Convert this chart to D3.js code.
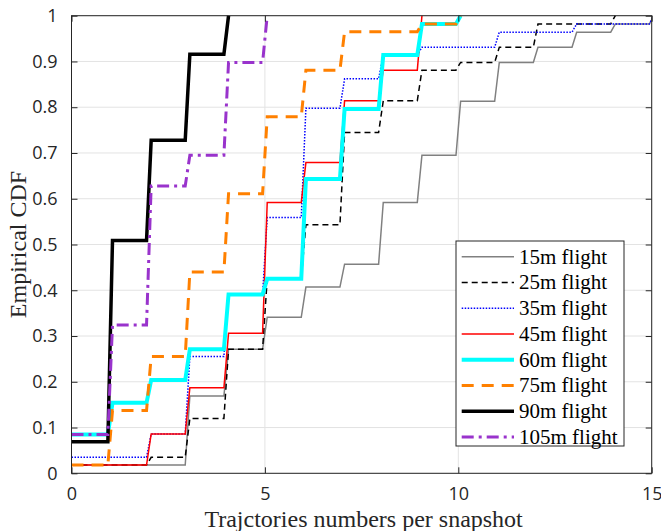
<!DOCTYPE html>
<html>
<head>
<meta charset="utf-8">
<script src="https://cdn.jsdelivr.net/npm/d3@7/dist/d3.min.js"></script>
<style>
html,body{margin:0;padding:0;background:#fff;}
svg{display:block;}
</style>
</head>
<body>
<svg id="chart" width="661" height="531"></svg>
<script>
// CDF values at x = 0,1,2,... (value holds until the next integer)
const xTicks = [0, 5, 10, 15];
const yTicks = [0, 0.1, 0.2, 0.3, 0.4, 0.5, 0.6, 0.7, 0.8, 0.9, 1];
const yTickLabels = ["0", "0.1", "0.2", "0.3", "0.4", "0.5", "0.6", "0.7", "0.8", "0.9", "1"];
const seriesNames = ["15m flight", "25m flight", "35m flight", "45m flight", "60m flight", "75m flight", "90m flight", "105m flight"];
const cdf15  = [0.018, 0.018, 0.018, 0.169, 0.271, 0.341, 0.407, 0.457, 0.592, 0.695, 0.813, 0.898, 0.931, 0.964, 0.982, 1];
const cdf25  = [0.018, 0.018, 0.035, 0.120, 0.271, 0.425, 0.543, 0.745, 0.814, 0.881, 0.898, 0.931, 0.982, 0.982, 1];
const cdf35  = [0.035, 0.035, 0.086, 0.255, 0.391, 0.559, 0.798, 0.862, 0.914, 0.931, 0.931, 0.964, 0.964, 0.982, 0.982, 1];
const cdf45  = [0.018, 0.018, 0.086, 0.187, 0.306, 0.592, 0.679, 0.814, 0.881, 1];
const cdf60  = [0.085, 0.154, 0.204, 0.271, 0.391, 0.425, 0.643, 0.796, 0.914, 0.982, 1];
const cdf75  = [0.018, 0.137, 0.255, 0.440, 0.611, 0.779, 0.881, 0.965, 0.965, 0.982, 1];
const cdf90  = [0.069, 0.509, 0.728, 0.916, 1];
const cdf105 = [0.085, 0.324, 0.628, 0.695, 0.898, 1];
const allSeries = [cdf15, cdf25, cdf35, cdf45, cdf60, cdf75, cdf90, cdf105];

const styles = [
  {color: "#808080", width: 1.5, dash: null},
  {color: "#000000", width: 1.5, dash: "6,4"},
  {color: "#0000ff", width: 1.5, dash: "1.5,1.5"},
  {color: "#ff0000", width: 1.5, dash: null},
  {color: "#00ffff", width: 4,   dash: null},
  {color: "#ff8000", width: 3,   dash: "12,8"},
  {color: "#000000", width: 3.5, dash: null},
  {color: "#9933cc", width: 3,   dash: "12,5,3,5"}
];

const svg = d3.select("#chart");
const L = 71.5, R = 651.7, T = 15.7, B = 473.3;
const x = d3.scaleLinear().domain([0, 15]).range([L, R]);
const y = d3.scaleLinear().domain([0, 1]).range([B, T]);

// grid
svg.append("g").selectAll("line").data(yTicks).join("line")
  .attr("x1", L).attr("x2", R).attr("y1", d => y(d)).attr("y2", d => y(d))
  .attr("stroke", "#e3e3e3").attr("stroke-width", 1);
svg.append("g").selectAll("line").data(xTicks).join("line")
  .attr("y1", T).attr("y2", B).attr("x1", d => x(d)).attr("x2", d => x(d))
  .attr("stroke", "#e3e3e3").attr("stroke-width", 1);

// series
const s = 0.06;
function stepPoints(vals) {
  const pts = [[0, vals[0]]];
  for (let k = 1; k < vals.length; k++) {
    pts.push([k - s, vals[k - 1]]);
    pts.push([k + s, vals[k]]);
  }
  return pts;
}
const line = d3.line().x(d => x(d[0])).y(d => y(d[1]));
svg.append("clipPath").attr("id", "clip").append("rect")
  .attr("x", L).attr("y", T - 2).attr("width", R - L).attr("height", B - T + 4);
const plot = svg.append("g").attr("clip-path", "url(#clip)");
allSeries.forEach((vals, i) => {
  const st = styles[i];
  plot.append("path").datum(stepPoints(vals))
    .attr("d", line).attr("fill", "none")
    .attr("stroke", st.color).attr("stroke-width", st.width)
    .attr("stroke-dasharray", st.dash)
    .attr("stroke-linejoin", "miter");
});

// axes box
const axisColor = "#262626";
svg.append("rect").attr("x", L).attr("y", T).attr("width", R - L).attr("height", B - T)
  .attr("fill", "none").attr("stroke", axisColor).attr("stroke-width", 1);
const tl = 6;
const axB = d3.axisBottom(x).tickValues(xTicks).tickSize(-tl).tickPadding(14).tickFormat(d3.format("d"));
const axL = d3.axisLeft(y).tickValues(yTicks).tickSize(-tl).tickPadding(14).tickFormat((d, i) => yTickLabels[i]);
const axT = d3.axisTop(x).tickValues(xTicks).tickSize(-tl).tickFormat("");
const axR = d3.axisRight(y).tickValues(yTicks).tickSize(-tl).tickFormat("");
function styleAxis(g) {
  g.select(".domain").remove();
  g.selectAll(".tick line").attr("stroke", axisColor);
  g.selectAll(".tick text").attr("fill", "#262626")
    .style("font-family", "'Open Sans', sans-serif").style("font-size", "18px");
}
svg.append("g").attr("transform", `translate(0,${B})`).call(axB).call(styleAxis);
svg.append("g").attr("transform", `translate(${L},0)`).call(axL).call(styleAxis);
svg.append("g").attr("transform", `translate(0,${T})`).call(axT).call(styleAxis);
svg.append("g").attr("transform", `translate(${R},0)`).call(axR).call(styleAxis);

// axis labels
svg.append("text").attr("x", (L + R) / 2 + 2).attr("y", 527).attr("text-anchor", "middle")
  .style("font-family", "'Liberation Serif', serif").style("font-size", "24px").attr("fill", "#262626")
  .text("Trajctories numbers per snapshot");
svg.append("text").attr("transform", `translate(26,${(T + B) / 2}) rotate(-90)`).attr("text-anchor", "middle")
  .style("font-family", "'Liberation Serif', serif").style("font-size", "24px").attr("fill", "#262626")
  .text("Empirical CDF");

// legend
const lg = svg.append("g");
const lx = 456, ly = 241, lw = 168, lh = 205;
lg.append("rect").attr("x", lx).attr("y", ly).attr("width", lw).attr("height", lh)
  .attr("fill", "#fff").attr("stroke", axisColor).attr("stroke-width", 1);
const rowY = d3.scaleLinear().domain([0, 7]).range([256.7, 437]);
seriesNames.forEach((name, i) => {
  const st = styles[i];
  const yy = rowY(i);
  lg.append("line").attr("x1", 461.7).attr("x2", 514).attr("y1", yy).attr("y2", yy)
    .attr("stroke", st.color).attr("stroke-width", st.width).attr("stroke-dasharray", st.dash);
  lg.append("text").attr("x", 519).attr("y", yy + 7)
    .style("font-family", "'Liberation Serif', serif").style("font-size", "21px").attr("fill", "#000")
    .text(name);
});
</script>
</body>
</html>
